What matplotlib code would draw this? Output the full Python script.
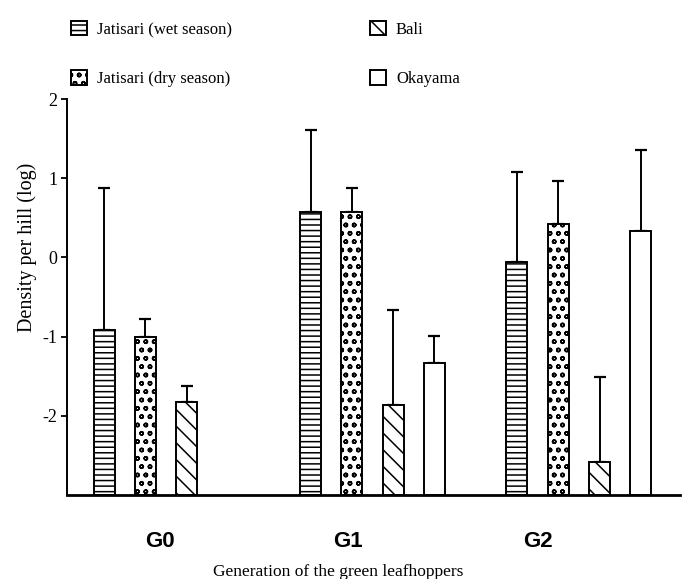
#!/usr/bin/env python3
"""
Bar chart of green leafhopper density per hill (log) by generation,
with upper error bars, for four populations.
"""
import numpy as np
import matplotlib
matplotlib.use('Agg')
import matplotlib.pyplot as plt
from matplotlib.patches import Patch

# generations and populations
groups = ['G0', 'G1', 'G2']
series = ['Jatisari (wet season)', 'Jatisari (dry season)', 'Bali', 'Okayama']

# mean log density and top of the error bar, per generation
wet_mean = [-0.92, 0.57, -0.06]
wet_upper = [0.87, 1.61, 1.08]
dry_mean = [-1.00, 0.57, 0.42]
dry_upper = [-0.78, 0.87, 0.96]
bali_mean = [-1.82, -1.86, -2.58]
bali_upper = [-1.63, -0.67, -1.51]
oka_mean = [np.nan, -1.33, 0.33]   # no Okayama data for G0
oka_upper = [np.nan, -0.99, 1.35]

yticks = [-2, -1, 0, 1, 2]
ytick_labels = ['-2', '-1', '0', '1', '2']

means = [wet_mean, dry_mean, bali_mean, oka_mean]
uppers = [wet_upper, dry_upper, bali_upper, oka_upper]
hatches = ['---', 'oo', '\\\\', '']

BASE = -3.0          # bars start at the bottom of the axis
group_start = [1, 6, 11]
bar_w = 0.51

plt.rcParams['font.family'] = ['Liberation Serif', 'DejaVu Serif']
plt.rcParams['hatch.linewidth'] = 1.1

fig = plt.figure(figsize=(6.84, 5.79), dpi=100)
ax = fig.add_axes([67/684, 1 - 495/579, (680 - 67)/684, (495 - 99)/579])

for i, (m, u, h) in enumerate(zip(means, uppers, hatches)):
    m = np.array(m, dtype=float)
    u = np.array(u, dtype=float)
    ok = ~np.isnan(m)
    x = np.array(group_start, dtype=float)[ok] + i
    ax.bar(x, m[ok] - BASE, bottom=BASE, width=bar_w, color='white',
           edgecolor='black', linewidth=1.4, hatch=h, zorder=2)
    err = np.vstack([np.zeros(ok.sum()), u[ok] - m[ok]])
    ax.errorbar(x, m[ok], yerr=err, fmt='none', ecolor='black',
                elinewidth=1.4, capsize=4.5, capthick=1.6, zorder=1)

ax.set_xlim(0.1, 14.95)
ax.set_ylim(BASE, 2.0)
ax.set_yticks(yticks)
ax.set_yticklabels(ytick_labels, fontsize=13)
ax.tick_params(axis='y', direction='out', length=4, width=1.3, pad=3)

ax.set_xticks([2.35, 6.9, 11.5])
ax.set_xticklabels(groups, fontsize=16, fontweight='bold',
                   family=['Liberation Sans', 'DejaVu Sans'])
ax.tick_params(axis='x', length=0, pad=26)

for side in ['top', 'right']:
    ax.spines[side].set_visible(False)
ax.spines['left'].set_linewidth(1.4)
ax.spines['bottom'].set_linewidth(2.0)

fig.text(27/684, 1 - 247/579, 'Density per hill (log)', rotation=90,
         ha='center', va='center', fontsize=14.5)
fig.text(338/684, 1 - 572/579, 'Generation of the green leafhoppers',
         ha='center', va='center', fontsize=12.5)

# legend: two columns above the plot
handles = [Patch(facecolor='white', edgecolor='black', linewidth=1.4, hatch=h)
           for h in hatches]
fig.legend(handles, series, loc='upper left', ncol=2,
           bbox_to_anchor=(71/684, 1 - 21/579), frameon=False, fontsize=12,
           handlelength=0.95, handleheight=0.95, handletextpad=0.6,
           labelspacing=1.95, columnspacing=8.3, borderpad=0, borderaxespad=0)

fig.savefig('out.png', dpi=100)
